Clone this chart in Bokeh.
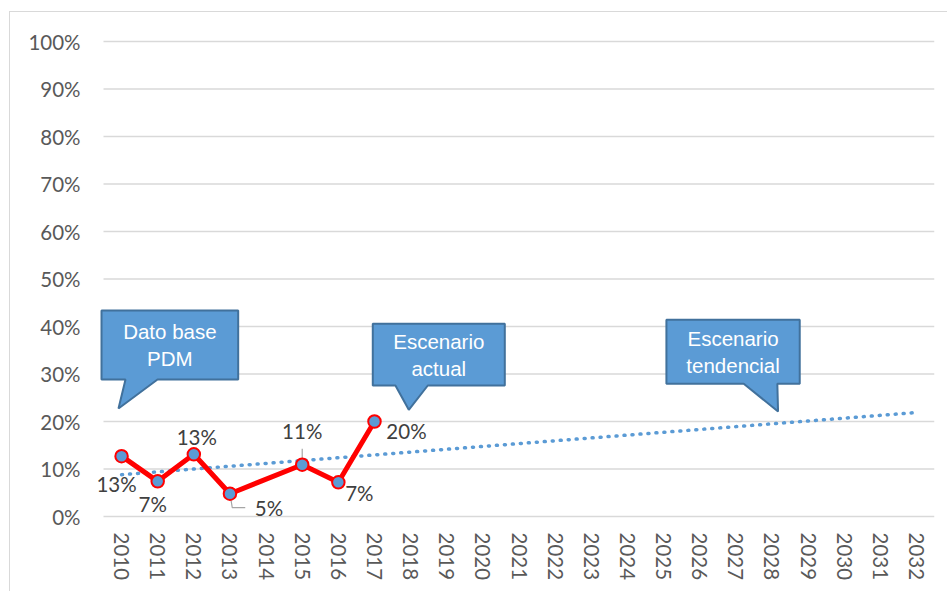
from bokeh.plotting import figure
from bokeh.models import Range1d, FixedTicker, NumeralTickFormatter, ColumnDataSource
from bokeh.core.properties import value
from bokeh.embed import file_html
from bokeh.resources import INLINE

# ---------------- data ----------------
years = list(range(2010, 2033))
obs_years = [2010, 2011, 2012, 2013, 2015, 2016, 2017]
obs_values = [0.127, 0.074, 0.131, 0.048, 0.109, 0.072, 0.200]
obs_labels = ["13%", "7%", "13%", "5%", "11%", "7%", "20%"]
trend_years = [2010, 2032]
trend_values = [0.088, 0.219]
y_ticks = [0.0, 0.1, 0.2, 0.3, 0.4, 0.5, 0.6, 0.7, 0.8, 0.9, 1.0]
callout_texts = [["Dato base", "PDM"], ["Escenario", "actual"], ["Escenario", "tendencial"]]

# ---------------- layout / style ----------------
# label offsets in screen px (dx right, dy up)
label_offsets = [(-5, -28), (-5, -23), (3, 17), (39, -14.5), (0, 34), (21, -11), (32, -9)]
# callout geometry: (x0, x1, y0, y1, base_left, base_right, tip_x, tip_y)
callouts = [
    (2009.445, 2013.228, 0.2884, 0.4337, 2010.109, 2010.995, 2009.915, 0.2274),
    (2016.953, 2020.607, 0.2758, 0.4057, 2017.580, 2018.476, 2017.950, 0.2246),
    (2025.080, 2028.770, 0.2794, 0.4141, 2027.220, 2028.150, 2028.170, 0.2211),
]

X0, X1 = 2009.5, 2032.5          # category band extent (gridline extent)
PX_X = (X1 - X0) / 831.0         # data units per screen px
PX_Y = 1.0 / 475.0
PAD_L = 10                       # extra frame room on the left (px)
PAD_Y = 10                       # extra frame room top / bottom (px)

p = figure(width=938, height=580,
           x_range=Range1d(X0 - PAD_L * PX_X, X1),
           y_range=Range1d(-PAD_Y * PX_Y, 1 + PAD_Y * PX_Y),
           output_backend="svg", toolbar_location=None,
           min_border_left=83, min_border_right=14,
           min_border_top=19, min_border_bottom=66)
p.styles = {"border-left": "1px solid #D9D9D9", "border-top": "1px solid #D9D9D9",
            "margin-left": "9px", "margin-top": "11px"}
p.outline_line_color = None
p.background_fill_color = "white"
p.border_fill_color = "white"

# axes
for ax in (p.xaxis, p.yaxis):
    ax.axis_line_color = None
    ax.major_tick_line_color = None
    ax.minor_tick_line_color = None
    ax.major_tick_out = 0
    ax.major_tick_in = 0
    ax.minor_tick_out = 0
    ax.minor_tick_in = 0
    ax.major_label_text_font = "Lato"
    ax.major_label_text_font_size = "20.5px"
    ax.major_label_text_color = "#595959"

p.yaxis.ticker = FixedTicker(ticks=y_ticks)
p.yaxis.formatter = NumeralTickFormatter(format="0%")
p.yaxis.major_label_standoff = 13

p.xaxis.ticker = FixedTicker(ticks=years)
p.xaxis.major_label_overrides = {y: str(y) for y in years}
p.xaxis.major_label_orientation = "vertical"
p.xaxis.major_label_standoff = 6

p.xgrid.grid_line_color = None
p.ygrid.grid_line_color = None
# horizontal gridlines limited to the category band
p.segment(x0=[X0] * len(y_ticks), x1=[X1] * len(y_ticks), y0=y_ticks, y1=y_ticks,
          line_color="#D9D9D9", line_width=1.6)

# callouts
xs, ys = [], []
tx, ty, tt, toff = [], [], [], []
for (x0, x1, y0, y1, bl, br, tpx, tpy), lines in zip(callouts, callout_texts):
    xs.append([x0, x1, x1, br, tpx, bl, x0])
    ys.append([y1, y1, y0, y0, tpy, y0, y0])
    cx, cy = (x0 + x1) / 2, (y0 + y1) / 2
    tx += [cx, cx]
    ty += [cy, cy]
    tt += lines
    toff += [-13.5, 13.5]
p.patches(xs, ys, fill_color="#5B9BD5", line_color="#41719C", line_width=2)
p.text(x=tx, y=ty, text=tt, y_offset=toff, text_color="white",
       text_font=value("Liberation Sans"), text_font_size="20.5px",
       text_align="center", text_baseline="middle")

# trend line
p.line(trend_years, trend_values, line_color="#5B9BD5", line_width=3.5,
       line_dash="1 7", line_cap="round")

# leader lines (from point, screen px offsets)
lead = {2013: [(0, 0), (2.3, -14), (15.3, -14)], 2015: [(0, 16), (0, 1)]}
for yr, pts in lead.items():
    i = obs_years.index(yr)
    p.line([obs_years[i] + dx * PX_X for dx, dy in pts],
           [obs_values[i] + dy * PX_Y for dx, dy in pts],
           line_color="#A6A6A6", line_width=1.2)

# observed series
src = ColumnDataSource(dict(x=obs_years, y=obs_values, lab=obs_labels,
                            dx=[o[0] for o in label_offsets],
                            dy=[-o[1] for o in label_offsets]))
p.line("x", "y", source=src, line_color="#FF0000", line_width=5)
p.scatter("x", "y", source=src, size=12.5, fill_color="#5B9BD5",
          line_color="#FF0000", line_width=2)
p.text("x", "y", text="lab", source=src, x_offset="dx", y_offset="dy",
       text_font=value("Lato"), text_font_size="20.5px", text_color="#404040",
       text_align="center", text_baseline="middle")

open("out.html", "w").write(file_html(p, INLINE))
